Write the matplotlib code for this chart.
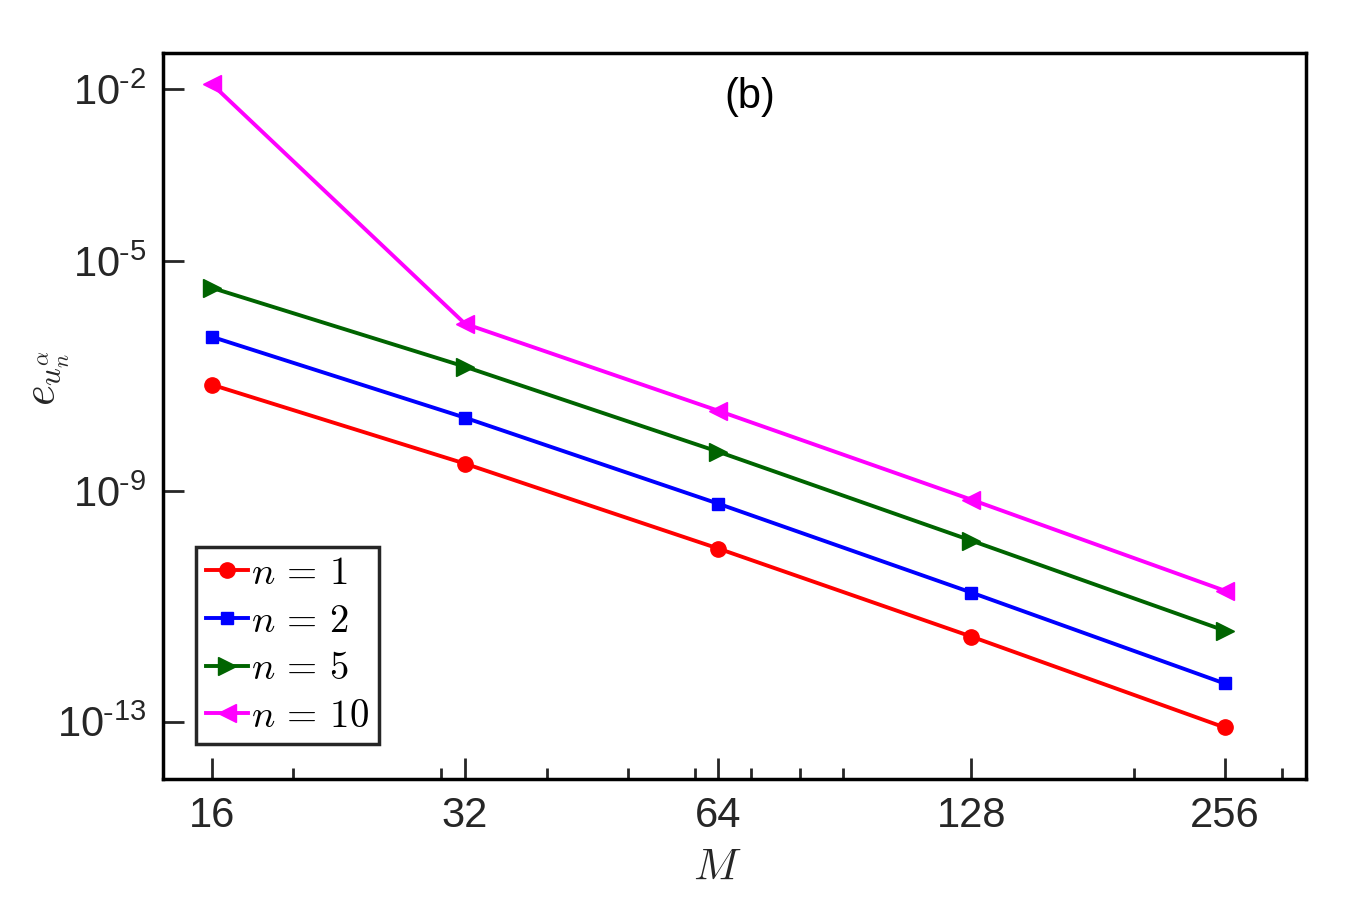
import matplotlib
matplotlib.use("Agg")
import matplotlib.pyplot as plt
from matplotlib.ticker import FixedLocator, NullLocator, NullFormatter

plt.rcParams['font.family'] = ['Liberation Sans', 'DejaVu Sans']
plt.rcParams['mathtext.fontset'] = 'cm'

M = [16, 32, 64, 128, 256]
err_n1 = [7.2e-8, 3.05e-9, 1.02e-10, 3.0e-12, 7.9e-14]
err_n2 = [4.9e-7, 1.92e-8, 6.15e-10, 1.75e-11, 4.6e-13]
err_n5 = [3.48e-6, 1.48e-7, 4.92e-9, 1.40e-10, 3.82e-12]
err_n10 = [1.22e-2, 8.26e-7, 2.54e-8, 7.22e-10, 1.89e-11]

x_ticks = [16, 32, 64, 128, 256]
x_minor = [20, 30, 40, 50, 60, 70, 80, 90, 200, 300]
y_ticks = [1e-2, 1e-5, 1e-9, 1e-13]
y_ticklabels = [r'$\mathregular{10^{\text{-}2}}$', r'$\mathregular{10^{\text{-}5}}$',
                r'$\mathregular{10^{\text{-}9}}$', r'$\mathregular{10^{\text{-}13}}$']

fig = plt.figure(figsize=(13.6, 9.07), dpi=100)
ax = fig.add_axes([0.1199, 0.1411, 0.8404, 0.8005])

lw = 2.8
ax.plot(M, err_n1, '-o', color='#ff0000', lw=lw, ms=11, label=r'$n\,=\,1$')
ax.plot(M, err_n2, '-s', color='#0000ff', lw=lw, ms=8.5, label=r'$n\,=\,2$')
ax.plot(M, err_n5, '->', color='#006400', lw=lw, ms=13, label=r'$n\,=\,5$')
ax.plot(M, err_n10, '-<', color='#ff00ff', lw=lw, ms=13, label=r'$n\,=\,10$')

ax.set_xscale('log', base=2)
ax.set_yscale('log')
ax.set_xlim(14, 320)
ax.set_ylim(10**-14.0, 10**-1.374)

ax.xaxis.set_major_locator(FixedLocator(x_ticks))
ax.set_xticklabels([str(v) for v in x_ticks])
ax.xaxis.set_minor_locator(FixedLocator(x_minor))
ax.xaxis.set_minor_formatter(NullFormatter())
ax.yaxis.set_major_locator(FixedLocator(y_ticks))
ax.set_yticklabels(y_ticklabels)
ax.yaxis.set_minor_locator(NullLocator())

ax.tick_params(axis='both', which='major', direction='in', length=15, width=2,
               labelsize=30, colors='#262626', pad=12)
ax.tick_params(axis='both', which='minor', direction='in', length=8, width=2,
               colors='#262626')
for s in ax.spines.values():
    s.set_linewidth(2.5)
    s.set_color('black')

ax.set_xlabel(r'$M$', fontsize=32, color='#262626')
ax.xaxis.set_label_coords(0.485, -0.095)
ax.set_ylabel(r'$e_{u_n^{\alpha}}$', fontsize=32, color='#262626')
ax.yaxis.set_label_coords(-0.08, 0.552)

ax.text(0.513, 0.94, '(b)', transform=ax.transAxes, fontsize=30,
        ha='center', va='center', color='black')

leg = ax.legend(loc='lower left', bbox_to_anchor=(0.029, 0.048), fontsize=28,
                handlelength=1.1, handletextpad=0.08, labelspacing=0.3,
                borderpad=0.24, borderaxespad=0, fancybox=False, framealpha=1)
leg.get_frame().set_edgecolor('#262626')
leg.get_frame().set_linewidth(2.5)

fig.savefig('out.png', dpi=100)
